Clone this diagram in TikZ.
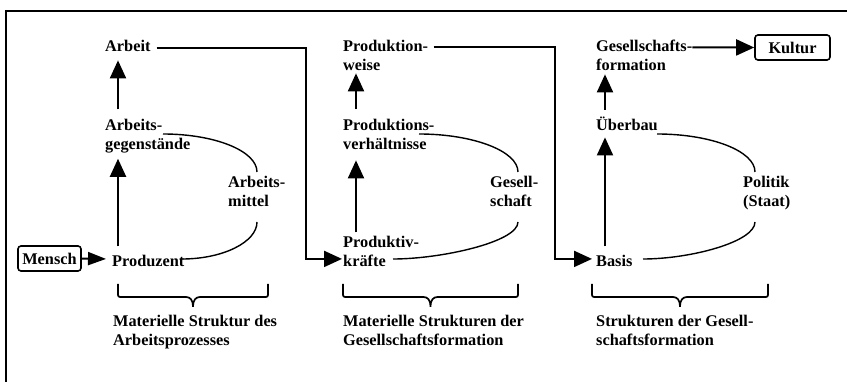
\documentclass[tikz,border=0pt]{standalone}
\usepackage{fontspec}
\setmainfont{Liberation Serif}
\usetikzlibrary{arrows.meta}
\newcommand\bracebelow[2]{%
  \draw[brc] (#1,284) -- (#1,297) -- ({(#1+#2)/2-9},297)
    .. controls ({(#1+#2)/2-3},297) and ({(#1+#2)/2},300) .. ({(#1+#2)/2},308)
    .. controls ({(#1+#2)/2},300) and ({(#1+#2)/2+3},297) .. ({(#1+#2)/2+9},297)
    -- (#2,297) -- (#2,284);}
\begin{document}
\begin{tikzpicture}[x=1pt,y=-1pt,
  lbl/.style={anchor=base west,inner sep=0pt,align=left,font=\bfseries\fontsize{16.3}{19}\selectfont},
  rbox/.style={draw,line width=1.6pt,rounded corners=3pt,inner sep=0pt,font=\bfseries\fontsize{16.3}{19}\selectfont},
  conn/.style={line width=2pt},
  arr/.style={conn,-{Triangle[length=18pt,width=16pt]}},
  sarr/.style={conn,-{Triangle[length=18pt,width=13pt]}},
  bow/.style={line width=1.4pt},
  brc/.style={line width=1.7pt,rounded corners=2pt}]
\useasboundingbox (0,0) rectangle (847,382);
% frame (cropped)
\draw[line width=2pt] (6,382) -- (6,11) -- (847,11);

% column 1 (multi-line nodes are placed at the baseline of their last line)
\node[lbl] (arbeit) at (105,52) {Arbeit};
\node[lbl] (ag) at (105,150) {Arbeits-\\gegenstände};
\node[lbl] (am) at (228,207) {Arbeits-\\mittel};
\node[lbl] (prod) at (112,267) {Produzent};
\node[rbox,minimum width=63pt,minimum height=25pt] (mensch) at (49.5,258.5) {Mensch};
\node[lbl] (t1) at (113,346) {Materielle Struktur des\\Arbeitsprozesses};

% column 2
\node[lbl] (pw) at (343,71) {Produktion-\\weise};
\node[lbl] (pv) at (343,150) {Produktions-\\verhältnisse};
\node[lbl] (ges) at (490,207) {Gesell-\\schaft};
\node[lbl] (pk) at (343,267) {Produktiv-\\kräfte};
\node[lbl] (t2) at (343,346) {Materielle Strukturen der\\Gesellschaftsformation};

% column 3
\node[lbl] (gf) at (596,71) {Gesellschafts-\\formation};
\node[lbl] (ueb) at (596,131) {Überbau};
\node[lbl] (pol) at (743,207) {Politik\\(Staat)};
\node[lbl] (basis) at (596,267) {Basis};
\node[rbox,minimum width=75pt,minimum height=25pt] (kultur) at (792.5,47.5) {Kultur};
\node[lbl] (t3) at (596,346) {Strukturen der Gesell-\\schaftsformation};

% vertical arrows
\draw[arr] ([xshift=13pt,yshift=10pt]ag.north west) -- ([xshift=13pt,yshift=-8pt]arbeit.south west);
\draw[arr] ([xshift=6pt,yshift=9pt]prod.north west) -- ([xshift=13pt,yshift=-5pt]ag.south west);
\draw[arr] ([xshift=13pt,yshift=10pt]pv.north west) -- ([xshift=13pt,yshift=-2pt]pw.south west);
\draw[arr] ([xshift=13pt,yshift=4pt]pk.north west) -- ([xshift=13pt,yshift=-10pt]pv.south west);
\draw[arr] ([xshift=9pt,yshift=7pt]ueb.north west) -- ([xshift=9pt,yshift=-3pt]gf.south west);
\draw[arr] ([xshift=9pt,yshift=9pt]basis.north west) -- ([xshift=9pt,yshift=-6pt]ueb.south west);

% horizontal connectors
\draw[sarr] (mensch.east) -- ([xshift=-6pt,yshift=2.5pt]prod.west);
\draw[arr] ([xshift=6pt,yshift=-1.5pt]arbeit.east) -| ([xshift=-37pt,yshift=-7pt]pk.west) -- ([xshift=-1pt,yshift=-7pt]pk.west);
\draw[arr] ([xshift=5.5pt,yshift=-7pt]pw.north east) -| ([xshift=-41pt,yshift=2.5pt]basis.west) -- ([xshift=-4pt,yshift=2.5pt]basis.west);
\draw[arr] ([yshift=-7pt]gf.north east) -- (kultur.west);

% arcs
\draw[bow] (163,134) .. controls (215,134) and (257,151) .. (257,172);
\draw[bow] (257,222) .. controls (257,242) and (223,259) .. (182,259);
\draw[bow] (419,134) .. controls (473,134) and (518,151) .. (518,172);
\draw[bow] (518,222) .. controls (518,242) and (441,259) .. (393,259);
\draw[bow] (657,134) .. controls (711,134) and (755,151) .. (755,172);
\draw[bow] (755,222) .. controls (755,242) and (690,259) .. (643,259);

% braces
\bracebelow{118}{268}
\bracebelow{343}{518}
\bracebelow{592}{768}
\end{tikzpicture}
\end{document}
